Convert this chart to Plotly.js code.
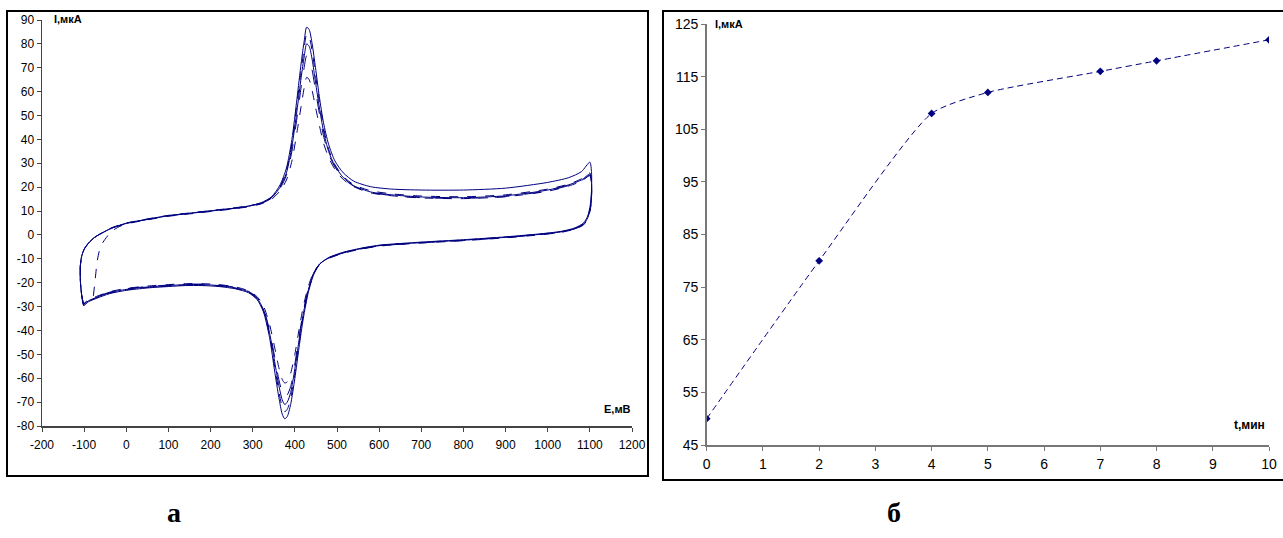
<!DOCTYPE html>
<html>
<head>
<meta charset="utf-8">
<script src="https://cdn.plot.ly/plotly-3.0.1.min.js"></script>
<style>
html,body{margin:0;padding:0;background:#fff;}
#chart{width:1283px;height:538px;}
</style>
</head>
<body>
<div id="chart"></div>
<script>
// ---------- Chart "а": cyclic voltammograms (E, mV vs I, µA) ----------
// forward-scan start for the first cycle (initial potential)
const E_start1 = [-78, -74, -69, -63];
const I_start1 = [-25.5, -19, -11, -6];
// forward-scan start (corner at -100 mV) for the following cycles
const E_corner = [-101, -106, -109, -109, -106, -100, -90, -75];
const I_corner = [-29.5, -25, -19, -13, -9, -6, -3.5, -1];
// forward (anodic) scan potentials
const E_fwd = [-55, -35, -15, 0, 50, 100, 150, 200, 250, 290, 320, 345, 365, 380, 393, 405, 415, 422, 428, 434, 441, 449, 458, 468, 480, 495, 515, 540, 580, 630, 700, 800, 900, 1000, 1050, 1080, 1100];
const I_fwd_c1 = [-3, 1.5, 3.6, 4.6, 6.3, 7.8, 8.8, 9.8, 10.8, 11.8, 13, 15, 18.5, 23, 31, 43, 54, 61.5, 66, 65, 60.5, 53.5, 46, 38.5, 32.5, 27.5, 23.2, 20.2, 17.6, 16.4, 15.5, 15.2, 16, 18.3, 20.5, 22.5, 24.8];
const I_fwd_c2 = [1, 2.8, 4, 4.8, 6.5, 8, 9, 10, 11, 12, 13.2, 15.4, 19.5, 25, 35, 49, 62, 70, 75, 74, 69, 60.5, 51, 41.5, 34, 28.5, 23.7, 20.4, 17.8, 16.5, 15.6, 15.3, 16.1, 18.5, 20.7, 22.7, 25];
const I_fwd_c3 = [1.1, 2.9, 4.1, 4.9, 6.6, 8.1, 9.1, 10.1, 11.1, 12.1, 13.3, 15.6, 20, 26, 37, 52, 66, 74.5, 80, 79, 73.5, 64, 53.5, 43.5, 35, 29, 24, 20.6, 18, 16.8, 15.9, 15.6, 16.4, 18.8, 21, 23, 25.5];
const I_fwd_c4 = [1.2, 3, 4.2, 5, 6.7, 8.2, 9.2, 10.2, 11.2, 12.2, 13.4, 15.8, 20.5, 27, 38.5, 55, 69, 78, 84, 83, 77, 67, 56, 45, 36, 29.5, 24.5, 21, 18.5, 17.2, 16.3, 16, 16.8, 19.2, 21.3, 23.5, 26];
const I_fwd_c5 = [1, 2.8, 4, 4.8, 6.5, 8, 9, 10, 11, 12, 13.5, 16, 21, 28, 40, 57, 72, 81, 87, 86, 80, 70, 58, 47, 38, 31, 26, 22.5, 20.2, 19.2, 18.8, 18.8, 19.6, 22, 24, 26.5, 30.5];
// reverse (cathodic) scan potentials
const E_rev = [1104, 1104, 1101, 1095, 1085, 1065, 1035, 990, 900, 800, 700, 600, 550, 510, 480, 460, 445, 432, 420, 410, 400, 390, 382, 376, 370, 362, 352, 340, 325, 310, 290, 260, 220, 180, 140, 100, 50, 0, -40, -70, -90, -101];
const I_rev_c1 = [20.5, 15.5, 10.5, 6.8, 4.2, 2.5, 1.2, 0.2, -1.2, -2.4, -3.4, -4.7, -6.2, -7.9, -9.9, -12, -15.5, -21.5, -30, -39.5, -50, -58, -61.5, -62, -60.5, -55.5, -47, -37.5, -29.5, -25.8, -23.4, -21.8, -20.8, -20.4, -20.4, -20.8, -21.4, -22.4, -23.8, -25.7, -27.2, -28.8];
const I_rev_c2 = [21, 16, 10.8, 7, 4.4, 2.6, 1.3, 0.3, -1.1, -2.3, -3.3, -4.6, -6.1, -7.8, -9.8, -12, -15.8, -22.5, -32, -42.5, -54, -63.5, -67, -68, -66, -60.5, -51, -40, -30.5, -26.2, -23.6, -22, -21, -20.6, -20.6, -21, -21.6, -22.6, -24, -25.9, -27.4, -29];
const I_rev_c3 = [21.5, 16.5, 11, 7.2, 4.5, 2.7, 1.4, 0.4, -1, -2.2, -3.2, -4.5, -6, -7.7, -9.7, -12, -16, -23, -33, -44, -56, -66, -70, -71, -69, -63, -53, -41, -31, -26.5, -23.8, -22.2, -21.2, -20.8, -20.8, -21.2, -21.8, -22.8, -24.2, -26.1, -27.6, -29.2];
const I_rev_c4 = [22, 17, 11.5, 7.5, 4.7, 2.8, 1.5, 0.5, -0.9, -2.1, -3.1, -4.4, -5.9, -7.6, -9.6, -12, -16.3, -23.5, -34, -45.5, -58, -68.5, -73, -74, -72, -65.5, -55, -42, -31.5, -26.8, -24, -22.4, -21.4, -21, -21, -21.4, -22, -23, -24.4, -26.3, -27.8, -29.4];
const I_rev_c5 = [26, 19, 12.5, 8, 5, 3, 1.6, 0.6, -0.8, -2, -3, -4.3, -5.8, -7.5, -9.5, -12, -16.5, -24, -35, -47, -60, -71, -76, -77, -75, -68, -57, -43, -32, -27, -24.2, -22.6, -21.6, -21.2, -21.2, -21.6, -22.2, -23.2, -24.6, -26.5, -28, -29.5];
const cycleDash = ['dash', 'longdash', 'solid', 'dash', 'solid'];

// ---------- Chart "б": current vs time ----------
const t_min = [0, 2, 4, 5, 7, 8, 10];
const I_uA = [50, 80, 108, 112, 116, 118, 122];

// tick labels
const xTicksA = [-200, -100, 0, 100, 200, 300, 400, 500, 600, 700, 800, 900, 1000, 1100, 1200];
const yTicksA = [90, 80, 70, 60, 50, 40, 30, 20, 10, 0, -10, -20, -30, -40, -50, -60, -70, -80];
const xTicksB = [0, 1, 2, 3, 4, 5, 6, 7, 8, 9, 10];
const yTicksB = [45, 55, 65, 75, 85, 95, 105, 115, 125];

const W = 1283, H = 538;
const px = v => v / W;
const py = v => (H - v) / H;
const NAVY = '#000080';
const SANS = 'Liberation Sans, Arial, sans-serif';

const cycles = [
  {sx: E_start1, sy: I_start1, f: I_fwd_c1, r: I_rev_c1},
  {sx: E_corner, sy: I_corner, f: I_fwd_c2, r: I_rev_c2},
  {sx: E_corner, sy: I_corner, f: I_fwd_c3, r: I_rev_c3},
  {sx: E_corner, sy: I_corner, f: I_fwd_c4, r: I_rev_c4},
  {sx: E_corner, sy: I_corner, f: I_fwd_c5, r: I_rev_c5}
];

const traces = cycles.map((c, i) => ({
  type: 'scatter', mode: 'lines',
  x: c.sx.concat(E_fwd, E_rev),
  y: c.sy.concat(c.f, c.r),
  xaxis: 'x', yaxis: 'y',
  line: {color: NAVY, width: 1, dash: cycleDash[i], shape: 'spline', smoothing: 0.7},
  hoverinfo: 'skip', showlegend: false
}));

traces.push({
  type: 'scatter', mode: 'lines+markers',
  x: t_min, y: I_uA, xaxis: 'x2', yaxis: 'y2',
  line: {color: NAVY, width: 1, dash: '6px,4px', shape: 'spline', smoothing: 0.6},
  marker: {symbol: 'diamond', size: 6, color: NAVY},
  hoverinfo: 'skip', showlegend: false
});

const axBase = {
  showgrid: false, zeroline: false, showline: true, mirror: false,
  ticks: 'outside', ticklen: 4, tickwidth: 1, fixedrange: true
};

const layout = {
  width: W, height: H,
  margin: {l: 0, r: 0, t: 0, b: 0, pad: 0},
  paper_bgcolor: '#fff', plot_bgcolor: 'rgba(0,0,0,0)',
  font: {family: SANS, color: '#000'},
  xaxis: Object.assign({}, axBase, {
    domain: [px(42), px(632)], range: [-200, 1200],
    tickvals: xTicksA, ticktext: xTicksA.map(String),
    linecolor: '#444', linewidth: 1.5, tickcolor: '#444',
    tickfont: {size: 12, family: SANS, color: '#000'},
    anchor: 'y', ticklabelstandoff: 3
  }),
  yaxis: Object.assign({}, axBase, {
    domain: [py(426), py(20)], range: [-80, 90],
    tickvals: yTicksA, ticktext: yTicksA.map(String),
    linecolor: '#444', linewidth: 1.5, tickcolor: '#444',
    tickfont: {size: 12, family: SANS, color: '#000'},
    anchor: 'x'
  }),
  xaxis2: Object.assign({}, axBase, {
    domain: [px(706.7), px(1269)], range: [0, 10],
    tickvals: xTicksB, ticktext: xTicksB.map(String),
    linecolor: '#777', linewidth: 1.5, tickcolor: '#777',
    tickfont: {size: 14, family: SANS, color: '#000'},
    anchor: 'y2', ticklabelstandoff: 2
  }),
  yaxis2: Object.assign({}, axBase, {
    domain: [py(445), py(24)], range: [45, 125],
    tickvals: yTicksB, ticktext: yTicksB.map(String),
    linecolor: '#777', linewidth: 1.5, tickcolor: '#777',
    tickfont: {size: 14, family: SANS, color: '#000'},
    anchor: 'x2'
  }),
  shapes: [
    {type: 'rect', xref: 'paper', yref: 'paper', x0: px(7), x1: px(648), y0: py(476), y1: py(11),
     line: {color: '#000', width: 2}, fillcolor: 'rgba(0,0,0,0)', layer: 'below'},
    {type: 'rect', xref: 'paper', yref: 'paper', x0: px(663), x1: px(1300), y0: py(480), y1: py(11),
     line: {color: '#000', width: 2}, fillcolor: 'rgba(0,0,0,0)', layer: 'below'}
  ],
  annotations: [
    {xref: 'paper', yref: 'paper', x: px(52), y: py(19), xanchor: 'left', yanchor: 'middle',
     text: '<b>I,мкА</b>', showarrow: false, font: {size: 11, family: SANS, color: '#000'}},
    {xref: 'paper', yref: 'paper', x: px(633), y: py(409), xanchor: 'right', yanchor: 'middle',
     text: '<b>E,мВ</b>', showarrow: false, font: {size: 11, family: SANS, color: '#000'}},
    {xref: 'paper', yref: 'paper', x: px(713), y: py(24), xanchor: 'left', yanchor: 'middle',
     text: '<b>I,мкА</b>', showarrow: false, font: {size: 11, family: SANS, color: '#000'}},
    {xref: 'paper', yref: 'paper', x: px(1267), y: py(425), xanchor: 'right', yanchor: 'middle',
     text: '<b>t,мин</b>', showarrow: false, font: {size: 12, family: SANS, color: '#000'}},
    {xref: 'paper', yref: 'paper', x: px(174), y: py(512), xanchor: 'center', yanchor: 'middle',
     text: '<b>а</b>', showarrow: false, font: {size: 28, family: 'Liberation Serif, Times New Roman, serif', color: '#000'}},
    {xref: 'paper', yref: 'paper', x: px(894), y: py(512), xanchor: 'center', yanchor: 'middle',
     text: '<b>б</b>', showarrow: false, font: {size: 28, family: 'Liberation Serif, Times New Roman, serif', color: '#000'}}
  ]
};

Plotly.newPlot('chart', traces, layout, {staticPlot: true, displayModeBar: false});
</script>
</body>
</html>
